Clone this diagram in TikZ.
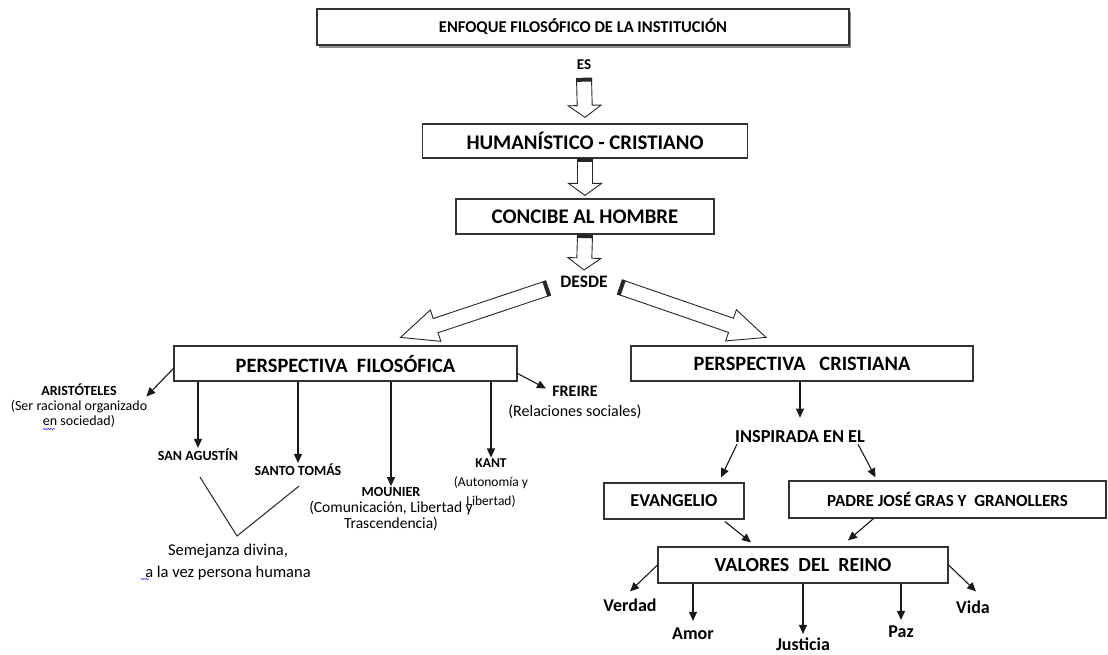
\documentclass[tikz,border=0pt]{standalone}
\usepackage{fontspec}
\setmainfont{Carlito}
\usetikzlibrary{arrows.meta,calc,shadows,decorations.pathmorphing}

\newcommand{\fsz}[2]{\fontsize{#1}{#2}\selectfont}
% hollow block arrow: [head length]{from}{to}
\newcommand{\blockarrow}[3][12]{%
  \draw[hollow] let \p1=(#2), \p2=(#3), \n1={atan2(\y2-\y1,\x2-\x1)},
      \n2={veclen(\x2-\x1,\y2-\y1)} in
    [shift={(\p1)}, rotate=\n1]
    (0pt,-7.5pt) -- (\n2-#1pt,-7.5pt) -- (\n2-#1pt,-16.5pt) -- (\n2,0pt)
    -- (\n2-#1pt,16.5pt) -- (\n2-#1pt,7.5pt) -- (0pt,7.5pt) -- cycle;
  \fill[black!85] let \p1=(#2), \p2=(#3), \n1={atan2(\y2-\y1,\x2-\x1)} in
    [shift={(\p1)}, rotate=\n1] (0pt,-8pt) rectangle (3.5pt,8pt);
}

\begin{document}
\begin{tikzpicture}[x=1pt, y=-1pt, >={Triangle[length=9pt,width=8pt]},
  box/.style={draw=black!80, line width=1.2pt, inner sep=0pt, font=\bfseries},
  lbl/.style={inner sep=1pt, align=center},
  hollow/.style={draw=black!85, fill=white, line width=0.9pt, line join=miter},
  link/.style={->, line width=1.1pt, black!90},
  plain/.style={line width=1.1pt, black!80}]

\useasboundingbox (0,0) rectangle (1108,654);

% upper chain
\node[box, minimum width=532, minimum height=36, font=\bfseries\fsz{16.5}{18},
  drop shadow={shadow xshift=1.5pt, shadow yshift=-2.5pt, fill=black!45, opacity=1},
  fill=white] (enfoque) at (583,27) {ENFOQUE FILOSÓFICO DE LA INSTITUCIÓN};
\node[lbl, font=\bfseries\fsz{15}{16}] (es) at (584,65) {ES};
\node[box, minimum width=325, minimum height=34, font=\bfseries\fsz{20.8}{22}]
  (human) at (585,141) {HUMANÍSTICO - CRISTIANO};
\node[box, minimum width=258, minimum height=35, font=\bfseries\fsz{20.8}{22}]
  (concibe) at (585,216.5) {CONCIBE AL HOMBRE};
\node[lbl, font=\bfseries\fsz{17.5}{19}] (desde) at (584,282) {DESDE};
\node[box, minimum width=343, minimum height=35, font=\bfseries\fsz{20.4}{22}]
  (pf) at (345.5,363.5) {PERSPECTIVA\ \ FILOSÓFICA};
\node[box, minimum width=342, minimum height=35, font=\bfseries\fsz{20.4}{22}]
  (pc) at (802,363.5) {PERSPECTIVA\ \ \ CRISTIANA};

\blockarrow{[yshift=-7pt]es.south}{[yshift=6pt]human.north}
\blockarrow{human.south}{[yshift=3pt]concibe.north}
\blockarrow{concibe.south}{[yshift=5pt]desde.north}
\blockarrow[37]{[xshift=-11pt,yshift=-6pt]desde.west}{[xshift=55pt,yshift=8pt]pf.north}
\blockarrow[37]{[xshift=11pt,yshift=-5pt]desde.east}{[xshift=-36pt,yshift=8pt]pc.north}

% perspectiva filosofica
\node[lbl, font=\fsz{14}{15}] (aris) at (79,405.5)
  {\textbf{ARISTÓTELES}\\(Ser racional organizado\\en sociedad)};
\node[lbl, font=\fsz{14}{16}\bfseries] (sanag) at (198,455) {SAN AGUSTÍN};
\node[lbl, font=\fsz{14}{16}\bfseries] (santo) at (298,470) {SANTO TOMÁS};
\node[lbl, font=\fsz{15.5}{16}] (mounier) at (391,509)
  {{\fsz{14}{16}\bfseries MOUNIER}\\(Comunicación, Libertad y\\Trascendencia)};
\node[lbl, font=\fsz{13.5}{19}] (kant) at (491,483)
  {{\bfseries KANT}\\(Autonomía y\\Libertad)};
\node[lbl, font=\fsz{16}{20}] (freire) at (575,402)
  {{\bfseries FREIRE}\\{\fsz{16}{16}(Relaciones sociales)}};
\node[lbl, font=\fsz{16.5}{22}] (semej) at (228,562)
  {Semejanza divina,\\a la vez persona humana};
\coordinate (vtx) at (237,536);

\draw[link] ([yshift=-5pt]pf.west) -- ([xshift=-2pt,yshift=-14pt]aris.north east);
\draw[link] (pf.south -| sanag.north) -- (sanag.north);
\draw[link] (pf.south -| santo.north) -- (santo.north);
\draw[link] (pf.south -| mounier.north) -- (mounier.north);
\draw[link] (pf.south -| kant.north) -- (kant.north);
\draw[link] ([yshift=-10pt]pf.east) -- ([xshift=-29pt,yshift=-4pt]freire.north);
\draw[plain] ([xshift=2pt,yshift=-15pt]sanag.south) -- (vtx)
  -- ([xshift=1pt,yshift=-9pt]santo.south);

% spelling marks
\draw[blue!75, line width=0.6pt, decorate,
  decoration={snake, amplitude=0.7pt, segment length=2.4pt}] (43,429) -- (55,429);
\draw[blue!75, line width=0.6pt, decorate,
  decoration={snake, amplitude=0.7pt, segment length=2.4pt}] (141,579) -- (149,579);

% perspectiva cristiana
\node[lbl, font=\bfseries\fsz{18.3}{20}] (inspir) at (800,437) {INSPIRADA EN EL};
\node[box, minimum width=140, minimum height=36, font=\bfseries\fsz{18.2}{20}]
  (evang) at (674,501) {EVANGELIO};
\node[box, minimum width=317, minimum height=37, font=\bfseries\fsz{17}{19}]
  (padre) at (947.5,499.5) {PADRE JOSÉ GRAS Y\ \ GRANOLLERS};
\node[box, minimum width=290, minimum height=36, font=\bfseries\fsz{20}{22}]
  (valores) at (803,565) {VALORES\ \ DEL\ \ REINO};
\node[lbl, font=\bfseries\fsz{18}{20}] (verdad) at (630,605) {Verdad};
\node[lbl, font=\bfseries\fsz{18}{20}] (amor) at (693,634) {Amor};
\node[lbl, font=\bfseries\fsz{18}{20}] (justicia) at (803,644.5) {Justicia};
\node[lbl, font=\bfseries\fsz{18}{20}] (paz) at (901,632) {Paz};
\node[lbl, font=\bfseries\fsz{18}{20}] (vida) at (973,607) {Vida};

\draw[link] (pc.south -| inspir.north) -- ([yshift=12pt]inspir.north);
\draw[link] ([xshift=3pt]inspir.south west) -- ([xshift=47pt,yshift=5pt]evang.north);
\draw[link] ([xshift=-8pt]inspir.south east) -- ([xshift=-72pt,yshift=3pt]padre.north);
\draw[link] ([xshift=51pt,yshift=-2pt]evang.south) -- ([xshift=-52pt,yshift=4pt]valores.north);
\draw[link] ([xshift=-74pt]padre.south) -- ([xshift=45pt,yshift=6pt]valores.north);
\draw[link] (valores.west) -- ([yshift=6pt]verdad.north);
\draw[link] (valores.south -| amor.north) -- ([yshift=6pt]amor.north);
\draw[link] (valores.south -| justicia.north) -- ([yshift=3pt]justicia.north);
\draw[link] (valores.south -| paz.north) -- ([yshift=5pt]paz.north);
\draw[link] (valores.east) -- ([xshift=3pt,yshift=8pt]vida.north);
\end{tikzpicture}
\end{document}
